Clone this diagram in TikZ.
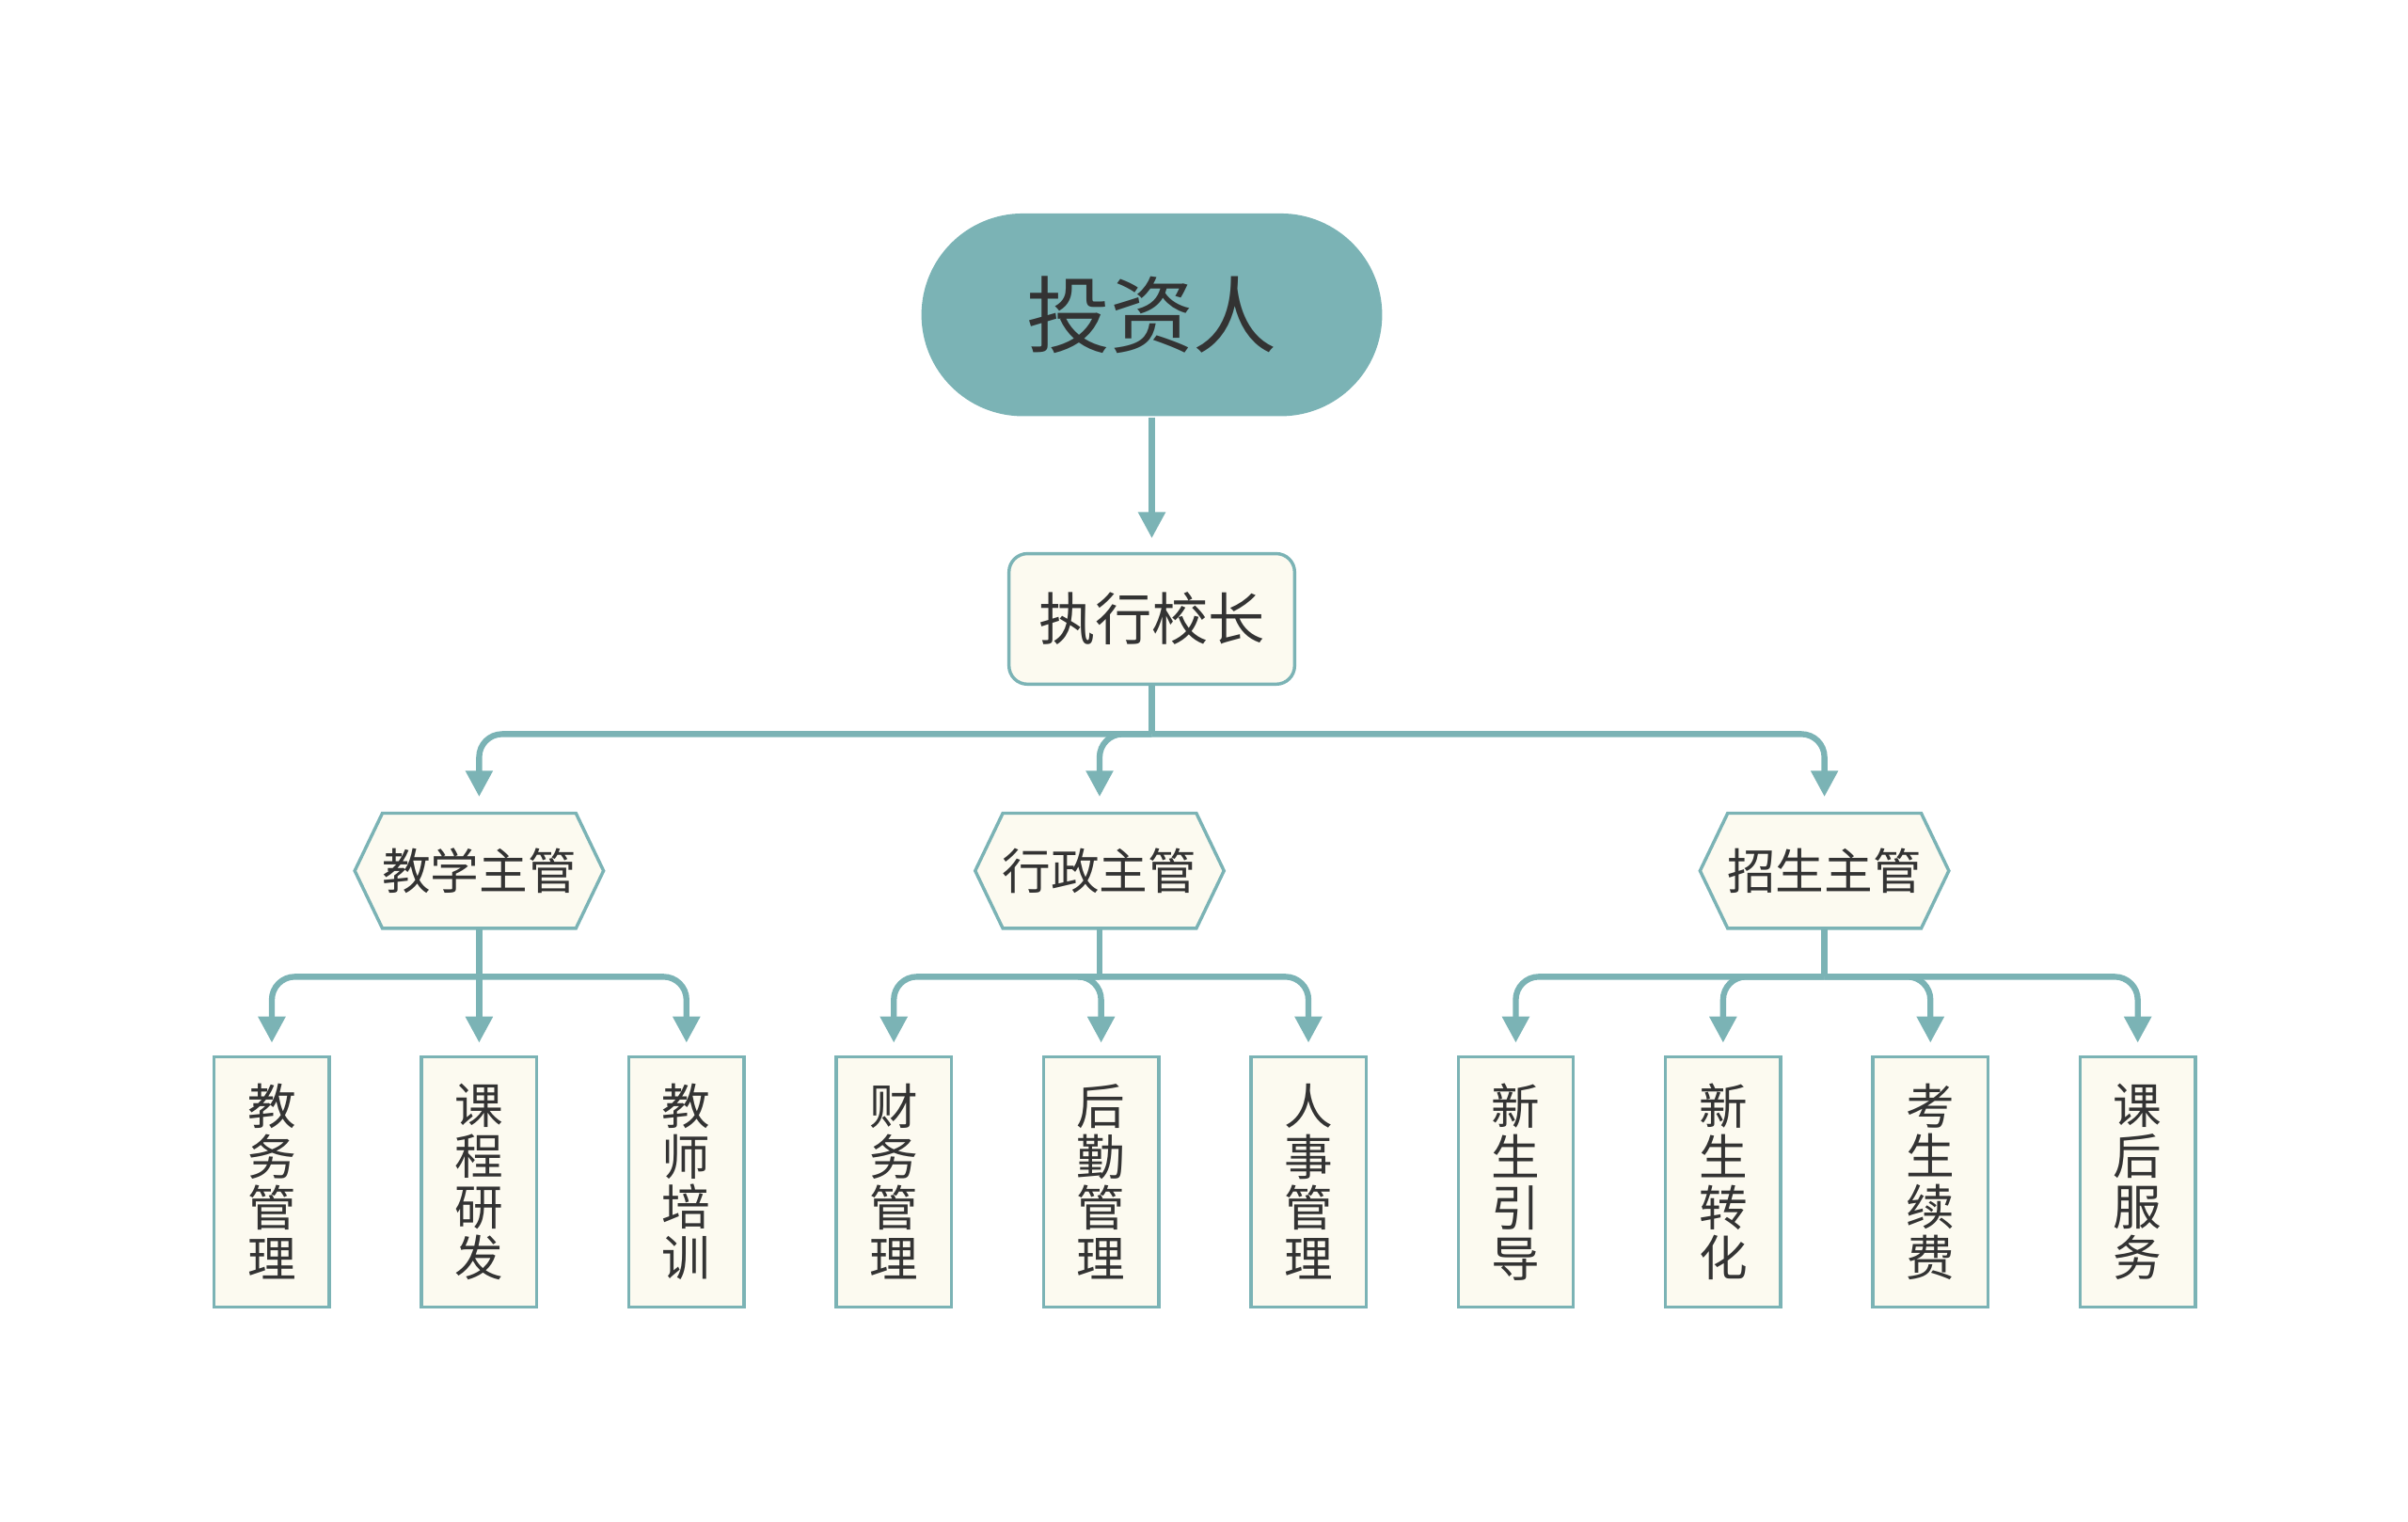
\documentclass[tikz,border=0pt]{standalone}
\usepackage{fontspec}
\setmainfont{Noto Sans CJK SC}
\usetikzlibrary{arrows.meta,positioning}
\definecolor{teal1}{HTML}{7BB3B5}
\definecolor{cream}{HTML}{FCFAF0}
\definecolor{ink}{HTML}{333333}

\begin{document}
\begin{tikzpicture}[x=1cm,y=1cm,
				root/.style={
				% The shape:
				rectangle, rounded corners=0.66cm,
				minimum width=3cm, minimum height=1.32cm,
				fill=teal1, text=ink,
				font=\fontsize{15.5}{16}\selectfont
				},
				head/.style={
				rectangle, rounded corners=0.12cm,
				minimum width=1.86cm, minimum height=0.85cm,
				draw=teal1, line width=0.6pt, fill=cream, text=ink,
				font=\fontsize{10.5}{11}\selectfont
				},
				chief/.style={
				minimum width=1.62cm, minimum height=0.75cm,
				text=ink, font=\fontsize{9}{10}\selectfont
				},
				leaf/.style={
				rectangle, minimum width=0.75cm, minimum height=1.63cm,
				draw=teal1, line width=0.6pt, fill=cream, text=ink,
				align=center, inner sep=0pt,
				font=\fontsize{9}{9.4}\selectfont
				},
				stem/.style={draw=teal1, line width=1.1pt},
				link/.style={
				draw=teal1, line width=1.1pt, rounded corners=0.15cm,
				-{Triangle[length=0.17cm,width=0.17cm]}
				},
				]
    \useasboundingbox (0,0) rectangle (15.68,-9.91);
    \node [root] (investor) at (7.50,-2.05) {投资人};
    \node [head] (principal) at (7.50,-4.03) {执行校长};
    \draw [link, shorten >=0.09cm] (investor.south) -- (principal.north);
    \coordinate (bus) at (7.50,-4.78);
    \draw [stem] (principal.south) -- (bus);
    % the three chiefs
    \foreach \name/\x/\txt in {teach/3.12/教学主管, admin/7.16/行政主管, enroll/11.88/招生主管}{
        \fill [cream] (\x-0.81,-5.67) -- (\x-0.63,-5.295) -- (\x+0.63,-5.295)
            -- (\x+0.81,-5.67) -- (\x+0.63,-6.045) -- (\x-0.63,-6.045) -- cycle;
        \node [chief] (\name) at (\x,-5.67) {\txt};
        \draw [teal1, line width=0.6pt] (\x-0.81,-5.67) -- (\x-0.63,-5.295) -- (\x+0.63,-5.295)
            -- (\x+0.81,-5.67) -- (\x+0.63,-6.045) -- (\x-0.63,-6.045) -- cycle;
        \draw [link, shorten >=0.1cm] (bus) -| (\name.north);
        \coordinate (\name-bus) at (\x,-6.36);
        \draw [stem] (\name.south) -- (\name-bus);
    }
    % the leaves
    \foreach \name/\x/\up/\txt in {
        l1/1.77/teach/教\\务\\管\\理, l2/3.12/teach/课\\程\\研\\发, l3/4.47/teach/教\\师\\培\\训,
        l4/5.82/admin/财\\务\\管\\理, l5/7.17/admin/后\\勤\\管\\理, l6/8.52/admin/人\\事\\管\\理,
        l7/9.87/enroll/新\\生\\引\\导, l8/11.22/enroll/新\\生\\转\\化,
        l9/12.57/enroll/考\\生\\续\\费, l10/13.92/enroll/课\\后\\服\\务}{
        \node [leaf] (\name) at (\x,-7.695) {\txt};
        \draw [link, shorten >=0.08cm] (\up-bus) -| (\name.north);
    }
\end{tikzpicture}
\end{document}
